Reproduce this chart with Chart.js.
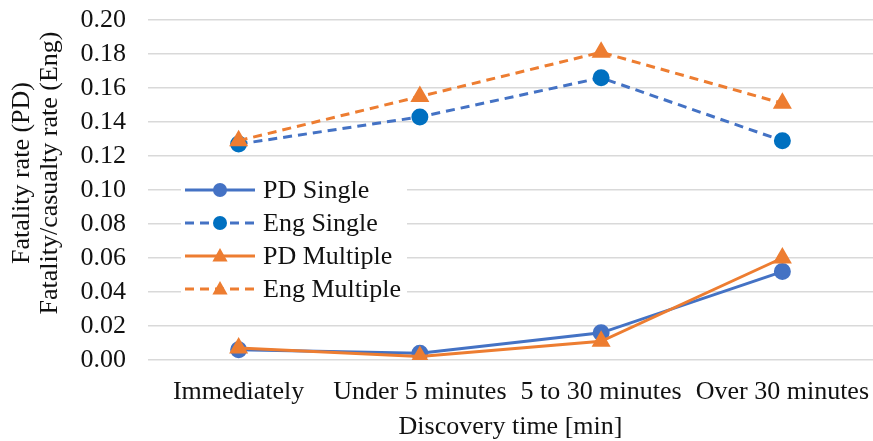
<!DOCTYPE html>
<html>
<head>
<meta charset="utf-8">
<script src="https://cdn.jsdelivr.net/npm/chart.js@4.4.0/dist/chart.umd.min.js"></script>
<style>
    html, body { margin: 0; padding: 0; background: #fff; }
    #wrap { width: 873px; height: 441px; }
</style>
</head>
<body>
<div id="wrap"><canvas id="chart"></canvas></div>
<script>
// Discovery time categories
const categories = ['Immediately', 'Under 5 minutes', '5 to 30 minutes', 'Over 30 minutes'];

// Rates per series
const pdSingle = [0.006, 0.004, 0.016, 0.052];
const engSingle = [0.127, 0.143, 0.166, 0.129];
const pdMultiple = [0.007, 0.002, 0.011, 0.060];
const engMultiple = [0.129, 0.155, 0.181, 0.151];

const seriesNames = ['PD Single', 'Eng Single', 'PD Multiple', 'Eng Multiple'];
const yTitle = ['Fatality rate (PD)', 'Fatality/casualty rate (Eng)'];
const xTitle = 'Discovery time [min]';

const bleu = '#4472C4';
const bleuFonce = '#0070C0';
const orange = '#ED7D31';
const police = '"Liberation Serif", "Times New Roman", serif';
const taille = 26;

Chart.defaults.font.family = police;
Chart.defaults.font.size = taille;
Chart.defaults.color = '#111';

// Two-line vertical axis title, placed by hand
const titreVertical = {
    id: 'titreVertical',
    afterDraw(chart) {
        const ctx = chart.ctx;
        const area = chart.chartArea;
        const cy = area.top + 153;
        ctx.save();
        ctx.fillStyle = '#111';
        ctx.font = taille + 'px ' + police;
        ctx.textAlign = 'center';
        ctx.textBaseline = 'middle';
        yTitle.forEach((ligne, i) => {
            ctx.save();
            ctx.translate(22 + i * 28, cy);
            ctx.rotate(-Math.PI / 2);
            ctx.fillText(ligne, 0, 0);
            ctx.restore();
        });
        ctx.restore();
    }
};

// Legend drawn by hand so each entry shows the line sample with its marker
const legendeLignes = {
    id: 'legendeLignes',
    afterDatasetsDraw(chart) {
        const ctx = chart.ctx;
        const area = chart.chartArea;
        const x0 = area.left + 37;
        const y0 = area.top + 170;
        const pas = 33;

        ctx.save();
        ctx.fillStyle = '#fff';
        ctx.fillRect(x0 - 4, y0 - 17, 226, 3 * pas + 34);

        chart.data.datasets.forEach((ds, i) => {
            const y = y0 + i * pas;
            ctx.strokeStyle = ds.borderColor;
            ctx.lineWidth = ds.borderWidth;
            ctx.setLineDash(ds.borderDash || []);
            ctx.beginPath();
            ctx.moveTo(x0, y);
            ctx.lineTo(x0 + 70, y);
            ctx.stroke();
            ctx.setLineDash([]);

            const cx = x0 + 35;
            const r = ds.pointRadius;
            ctx.fillStyle = ds.pointBackgroundColor;
            ctx.beginPath();
            if (ds.pointStyle === 'triangle') {
                ctx.moveTo(cx, y - r);
                ctx.lineTo(cx + r * 0.95, y + r * 0.7);
                ctx.lineTo(cx - r * 0.95, y + r * 0.7);
                ctx.closePath();
            } else {
                ctx.arc(cx, y, r, 0, Math.PI * 2);
            }
            ctx.fill();

            ctx.fillStyle = '#111';
            ctx.font = taille + 'px ' + police;
            ctx.textBaseline = 'middle';
            ctx.textAlign = 'left';
            ctx.fillText(ds.label, x0 + 78, y + 1);
        });
        ctx.restore();
    }
};

const ctx = document.getElementById('chart').getContext('2d');
new Chart(ctx, {
    type: 'line',
    data: {
        labels: categories,
        datasets: [
            {
                label: seriesNames[0],
                data: pdSingle,
                borderColor: bleu,
                borderWidth: 3,
                pointStyle: 'circle',
                pointRadius: 7,
                pointBackgroundColor: bleu,
                pointBorderColor: bleu,
                order: 4
            },
            {
                label: seriesNames[1],
                data: engSingle,
                borderColor: bleu,
                borderWidth: 3,
                borderDash: [9, 6],
                pointStyle: 'circle',
                pointRadius: 7,
                pointBackgroundColor: bleuFonce,
                pointBorderColor: bleuFonce,
                order: 3
            },
            {
                label: seriesNames[2],
                data: pdMultiple,
                borderColor: orange,
                borderWidth: 3,
                pointStyle: 'triangle',
                pointRadius: 8,
                pointBackgroundColor: orange,
                pointBorderColor: orange,
                order: 2
            },
            {
                label: seriesNames[3],
                data: engMultiple,
                borderColor: orange,
                borderWidth: 3,
                borderDash: [9, 6],
                pointStyle: 'triangle',
                pointRadius: 8,
                pointBackgroundColor: orange,
                pointBorderColor: orange,
                order: 1
            }
        ]
    },
    options: {
        responsive: true,
        maintainAspectRatio: false,
        animation: false,
        layout: { autoPadding: false, padding: { top: 20, left: 0, right: 0, bottom: 0 } },
        plugins: {
            legend: { display: false },
            tooltip: { enabled: false }
        },
        scales: {
            x: {
                offset: true,
                grid: { display: false, drawTicks: false },
                border: { display: false },
                ticks: { padding: 17, autoSkip: false, maxRotation: 0 },
                title: {
                    display: true,
                    text: xTitle,
                    padding: { top: 4, bottom: 0 },
                    font: { lineHeight: 1.1 }
                },
                afterFit(scale) {
                    scale.height = 81;
                    scale.paddingLeft = 0;
                    scale.paddingRight = 0;
                }
            },
            y: {
                min: 0,
                max: 0.2,
                border: { display: false },
                grid: { color: '#d9d9d9', lineWidth: 1.5, drawTicks: false },
                ticks: {
                    stepSize: 0.02,
                    autoSkip: false,
                    padding: 22,
                    callback: v => v.toFixed(2)
                },
                afterFit(scale) {
                    scale.width = 148;
                    scale.paddingTop = 0;
                    scale.paddingBottom = 0;
                }
            }
        }
    },
    plugins: [legendeLignes, titreVertical]
});
</script>
</body>
</html>
